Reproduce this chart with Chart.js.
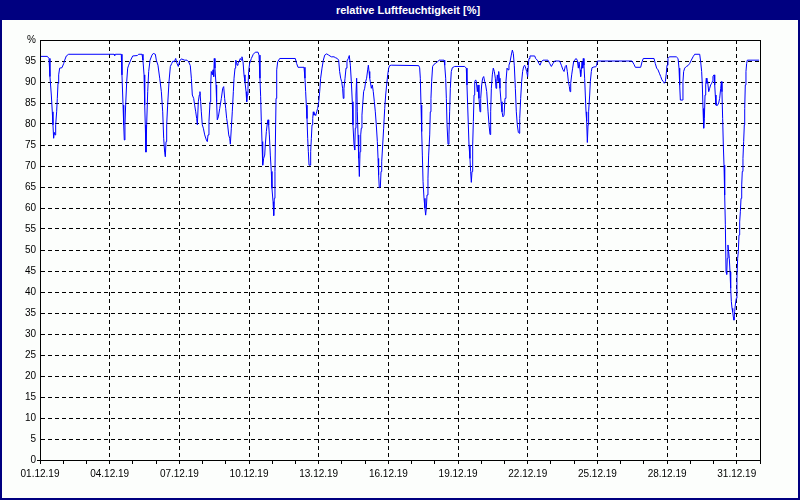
<!DOCTYPE html>
<html><head><meta charset="utf-8">
<script src="https://cdn.jsdelivr.net/npm/chart.js@4"></script>
<style>
html,body{margin:0;padding:0;background:#fcfefc}
#wrap{position:relative;width:800px;height:500px;overflow:hidden}
#c{position:absolute;left:0;top:0}
#title{position:absolute;left:0;top:0;width:800px;height:20px;background:#000080;color:#fff;font:bold 11px 'Liberation Sans',Arial,sans-serif;line-height:20px;text-align:center}
#title span{position:relative;left:8px}
</style></head><body>
<div id="wrap"><canvas id="c" width="800" height="500"></canvas><div id="title"><span>relative Luftfeuchtigkeit [%]</span></div></div>
<script>
// x tick labels (every 3 days)
const dateLabels = ['01.12.19','04.12.19','07.12.19','10.12.19','13.12.19','16.12.19','19.12.19','22.12.19','25.12.19','28.12.19','31.12.19'];
// y tick labels
const yTickLabels = ['0','5','10','15','20','25','30','35','40','45','50','55','60','65','70','75','80','85','90','95','%'];
// time of each reading, hours after 01.12.19 00:00
const hours = [
0,7.6,9.3,10.3,11.7,12.7,13.4,14.1,14.8,15.5,16.2,17.2,17.9,18.6,19.3,20.3,22.7,24.5,25.5,27.2,29.6,
76.5,77.2,77.8,84.0,84.7,85.8,86.5,87.1,87.8,88.5,89.6,90.6,91.6,93.7,95.8,100.6,101.9,105.4,106.4,107.5,108.2,108.8,109.5,110.2,111.3,112.3,113.7,115.7,117.1,119.2,120.2,121.9,123.7,125.4,126.8,127.8,128.8,129.5,130.2,130.9,131.9,133.3,134.7,136.1,137.4,138.8,140.2,141.6,142.9,144.3,146.0,149.5,151.9,153.6,155.3,156.4,157.4,158.8,159.8,160.9,161.9,162.6,163.6,164.6,165.3,166.0,166.7,167.7,168.8,170.2,171.9,172.9,173.6,174.6,175.7,176.4,177.0,178.1,178.8,179.5,180.1,180.8,181.9,182.5,183.2,184.3,
185.7,187.4,188.8,189.8,190.8,191.9,192.9,193.9,195.0,196.0,196.7,197.7,198.7,199.8,200.5,201.5,202.2,202.9,203.6,204.6,205.6,207.0,208.0,208.7,209.8,210.8,211.8,212.9,213.6,214.2,214.9,215.6,216.6,218.4,220.4,222.5,225.3,226.3,227.3,228.0,228.7,229.4,230.1,231.1,232.2,232.8,233.9,234.9,235.6,236.3,237.0,238.0,239.0,239.7,240.8,241.5,242.1,242.8,243.5,243.9,244.6,245.6,247.7,263.8,265.2,266.6,272.8,273.8,274.5,275.2,275.9,276.6,277.3,278.0,279.0,279.7,280.4,281.1,281.8,282.4,283.1,283.8,284.9,285.9,286.9,288.0,289.0,290.0,291.4,292.8,294.2,296.2,298.3,301.0,303.8,305.2,307.2,308.6,309.6,310.7,311.7,312.7,313.4,314.1,315.2,316.2,317.2,318.6,319.6,320.7,321.7,322.7,323.4,324.5,325.2,325.8,326.5,327.2,327.9,328.6,329.3,330.0,330.7,331.4,332.0,332.7,333.4,334.4,335.5,336.5,337.5,338.6,339.3,340.0,340.7,341.3,342.4,343.4,344.4,345.5,346.5,347.5,348.6,349.3,349.9,350.6,351.7,352.4,353.1,354.1,355.1,356.2,357.2,358.2,359.3,360.3,361.3,363.0,
391.3,392.3,393.0,393.7,394.4,395.1,395.8,396.8,397.8,398.5,399.2,399.9,400.9,401.6,402.7,403.3,404.0,404.7,405.7,407.1,408.5,410.6,412.6,417.5,418.2,419.2,419.9,420.6,421.6,422.6,423.3,424.0,425.0,426.1,428.5,438.8,440.5,441.2,441.9,442.6,443.3,444.3,445.0,445.7,446.4,447.1,447.8,448.5,449.2,450.2,450.9,451.9,452.6,453.6,454.7,455.4,456.4,457.4,458.5,459.5,460.5,461.6,463.0,464.0,465.0,465.7,466.4,467.4,468.4,469.5,470.5,471.2,471.9,472.6,473.3,474.0,474.6,475.3,476.4,477.4,478.4,479.5,480.5,481.5,482.6,483.6,484.6,485.7,487.0,488.1,489.1,490.1,491.2,492.2,493.2,494.3,495.0,495.7,496.7,497.7,498.7,499.8,500.8,501.9,502.9,503.9,504.6,505.3,506.3,511.2,512.2,513.9,515.6,516.7,518.0,519.8,524.9,526.7,528.4,530.1,531.8,537.0,538.7,540.4,541.5,542.8,543.9,544.9,546.0,547.0,547.7,548.4,549.4,550.4,551.4,552.5,553.9,555.2,556.3,557.0,558.0,558.7,559.4,
560.1,560.8,561.4,562.1,562.8,563.5,564.2,564.9,565.6,566.3,566.9,568.0,568.7,569.7,570.4,572.5,574.2,575.2,575.9,611.7,613.8,615.2,620.7,622.1,623.4,634.5,635.8,637.2,638.6,640.0,641.4,642.7,644.1,645.1,646.2,647.2,647.9,648.9,650.3,657.5,659.3,660.3,661.0,661.7,663.7,664.4,665.1,666.2,667.9,669.6,671.3,673.0,674.8,676.5,681.7,682.7,683.7,684.4,685.1,685.8,686.5,687.2,687.9,688.5,689.2,689.9,691.0,692.0,693.0,694.1,694.7,695.4,696.5,697.2,697.8,698.5,699.9,701.3,702.3,703.4,704.1,704.7,705.4,706.1,706.8,707.5,708.2,708.9,709.6,710.2,710.9,711.6,712.3,713.0,713.7,714.4,715.1,715.8,716.4,717.1,717.8,718.5,719.5,720.2,720.9,721.6,722.3,723.0,723.7,724.4,725.1,725.7,726.4,727.1,727.8,728.2,728.8,729.5,730.2,730.9,743.0
];
// relative humidity [%]
const humidity = [
96.1,96.1,95.6,91.3,86.9,82.9,79.8,76.6,78,77.4,79.8,82.9,86.1,89.7,91.7,93.3,93.4,94.4,95.2,96.2,96.6,
96.6,96.3,96.6,96.6,91.7,84.5,79.8,76.2,79.8,84.5,90.1,93.3,94,95.2,96.2,96.3,96.6,96.6,95.2,91.7,84.5,79.8,73.3,79.8,87.7,92.5,95.2,96.4,96.8,96.6,95.2,94,90.9,87.7,82.9,76.6,73.3,72.2,75.8,79.8,84.5,90.1,93.7,94.4,95,94.8,95.6,94.4,93.7,95,95.5,95.2,95.2,94.8,93.9,90.9,86.9,86.1,84.5,82.9,81.3,79.8,85.3,86.9,87.7,85.3,82.9,79.8,79,77.4,76.2,75.8,77.4,80.6,85.3,89.3,92.5,91.7,92.9,91.3,95.6,93.3,89.3,85.3,81,81.7,
83.7,86.1,88.5,88.9,86.1,83.7,81.3,79.8,77.4,76.6,75.2,79,82.9,87.7,90.9,93.3,95.2,95,94,94.4,94.8,95.6,95.2,96,94.8,91.7,90.1,87.7,85.3,86.9,88.5,92.5,94.4,95.6,96.6,97.1,97.1,96.4,90.9,86.5,80.6,75.8,70.2,71.8,72.6,75,78.2,80.2,81,79.8,77.4,72.6,68.7,64.7,61.5,58.2,62.3,68.7,79.8,86.1,92.9,94.8,95.6,95.6,94.4,93.5,93.5,90.9,87.7,84.5,81.3,76.6,73.4,70.2,70.2,73.4,76.6,79.8,81.3,82.9,82.1,82.5,82,82.9,83.7,85.3,87.7,90.9,93.3,95.2,96.4,96.7,96.4,96,96,95.8,95.6,95.2,92.5,90.9,90.1,88.5,86.1,88.5,90.9,93.3,95,95.6,96.3,94,90.1,85.3,79.8,75,73.8,79,86.9,90.9,82.9,77.4,71.8,67.5,73.4,77.4,79,82.1,84.5,87.7,88.5,90.1,90.9,92.9,94,92.5,90.9,90.1,88.5,89.3,87.7,85.3,82.9,79.8,75.8,71.8,67.9,64.8,65,68.7,71,75,79,83.7,86.9,89.3,91.7,93.3,93.9,94,
93.9,93.4,90.9,84.5,78.2,72.6,66.3,62.3,59.9,58.3,59.9,63.1,67.1,72.6,77.4,82.9,86.1,90.1,93.7,94.2,94.4,94.8,95.2,95.2,94,90.9,86.1,79.8,75.2,77.4,82.9,88.5,92.5,93.4,93.7,93.7,93.3,89.3,84.5,79.8,75,71.8,68.7,66.1,68.7,75,80.6,86.9,90.1,90.5,90.1,87.7,89.3,86.1,82.9,86.1,89.3,90.9,91.3,90.1,89.3,87.7,82.9,79.8,77.5,82.9,88.5,91.7,93.3,92.5,90.9,88.5,90.1,91.7,90.1,92.5,90.9,88.5,85.3,82.9,81.7,82.1,86.1,90.1,93.3,92.9,94,94.8,96.4,97.6,96.8,94,88.5,82.9,79.8,78,77.8,81.3,86.1,90.1,92.5,93.7,94,93.3,92.5,91.3,94,95.6,96.2,96.2,95.6,95.2,94.4,94,94.8,95.2,95.2,94.4,93.7,94.4,95,95,94,92.9,92.5,93.7,94,92.5,90.1,88.9,87.7,89.7,91.7,93.3,94.8,95.2,95.6,95.2,93.3,94.8,92.9,91.3,92.9,
94.8,93.3,95.6,94,90.9,86.9,82.9,80.6,75.6,79.8,82.9,86.9,90.1,92.5,93.4,93.6,93.6,94,95,95,94.2,93.5,93.5,94.8,95.6,95.6,94.4,93.3,92.9,92.1,91.3,90.5,90.1,89.7,90.1,92.1,94,95.6,96,96,95.6,93.3,89.3,85.7,85.7,90.1,92.5,93.3,93.7,93.9,94.4,95.2,96,96.6,96.6,94.8,92.5,89.3,83.7,79,81.3,86.9,89.3,90.9,89.7,90.1,87.7,88.5,89.3,89.7,90.1,91.3,91.7,89.3,86.9,84.5,84.4,85,86.1,88.5,90.1,87.7,81.3,75,70.2,63.1,56,44.8,44.2,48,51.2,49.6,48,44.8,40.9,37.7,36.1,35.3,34.1,33.3,35.3,36.9,38.5,43.3,48,49.6,53.6,56.7,59.1,62.3,65.5,68.7,71.8,75.8,79.8,83.7,89.3,92.5,94.4,95.2,95.2
];

const BG = '#fcfefc';
const frame = {
  id: 'frame',
  beforeDraw(chart) {
    const c = chart.ctx;
    c.save(); c.fillStyle = BG; c.fillRect(0, 0, chart.width, chart.height); c.restore();
  },
  afterDraw(chart) {
    const c = chart.ctx, a = chart.chartArea;
    c.save();
    c.strokeStyle = '#000'; c.lineWidth = 1;
    c.strokeRect(Math.round(a.left) + 0.5, Math.round(a.top) + 0.5, Math.round(a.right - a.left), Math.round(a.bottom - a.top));
    c.fillStyle = '#000080';
    c.fillRect(0, 0, 2, chart.height);
    c.fillRect(chart.width - 2, 0, 2, chart.height);
    c.fillRect(0, chart.height - 2, chart.width, 2);
    c.restore();
  }
};

const FONT = { family: "'Liberation Sans',Arial,sans-serif", size: 10 };

new Chart(document.getElementById('c'), {
  type: 'line',
  data: {
    datasets: [{
      data: hours.map((h, i) => ({ x: h, y: humidity[i] })),
      borderColor: '#0000ff',
      borderWidth: 1,
      pointRadius: 0,
      fill: false,
      tension: 0
    }]
  },
  options: {
    responsive: false,
    animation: false,
    events: [],
    layout: { padding: { left: 0, right: 40, top: 40, bottom: 0 } },
    plugins: { legend: { display: false }, tooltip: { enabled: false }, title: { display: false } },
    scales: {
      x: {
        type: 'linear', min: 0, max: 744,
        afterFit: s => { s.height = 40; },
        ticks: {
          stepSize: 24, autoSkip: false, maxRotation: 0, minRotation: 0, padding: 4,
          color: '#000', font: FONT,
          callback: v => (v % 72 === 0 ? dateLabels[v / 72] : '')
        },
        grid: {
          color: c => (c.tick && c.tick.value % 72 === 0 && c.tick.value !== 0 ? '#000' : 'rgba(0,0,0,0)'),
          lineWidth: 1, tickColor: '#000', tickLength: 4, tickWidth: 1
        },
        border: { display: true, color: '#000', width: 1, dash: [4, 3] }
      },
      y: {
        min: 0, max: 100,
        afterFit: s => { s.width = 40; },
        ticks: {
          stepSize: 5, padding: 1, color: '#000', font: FONT,
          callback: (v) => yTickLabels[Math.round(v / 5)]
        },
        grid: {
          color: c => (c.tick && c.tick.value > 0 && c.tick.value < 100 ? '#000' : 'rgba(0,0,0,0)'),
          lineWidth: 1,
          tickColor: c => (c.tick && c.tick.value === 0 ? '#000' : 'rgba(0,0,0,0)'),
          tickLength: 3
        },
        border: { display: true, color: '#000', width: 1, dash: [4, 3] }
      }
    }
  },
  plugins: [frame]
});
</script>
</body></html>
